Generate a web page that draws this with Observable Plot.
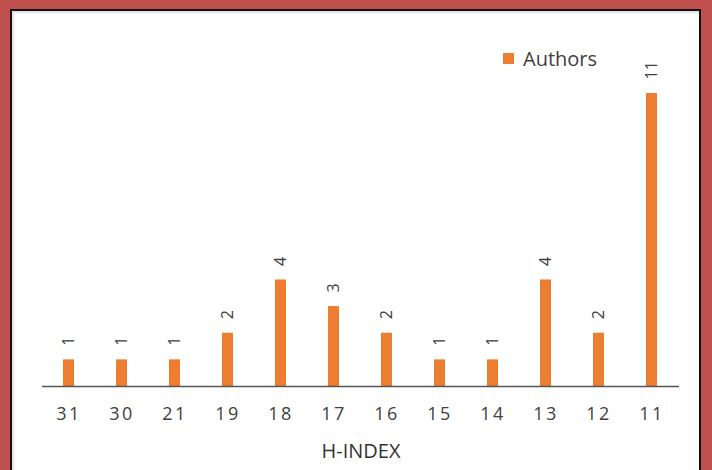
<!DOCTYPE html>
<html>
<head>
<meta charset="utf-8">
<script src="https://cdn.jsdelivr.net/npm/d3@7"></script>
<script src="https://cdn.jsdelivr.net/npm/@observablehq/plot@0.6"></script>
<style>
  html, body { margin: 0; padding: 0; }
  body { width: 712px; height: 470px; background: #C0504D; position: relative; overflow: hidden; font-family: "Open Sans", sans-serif; }
  #frame { position: absolute; left: 10px; top: 9px; width: 687px; height: 470px; background: #fff; border-top: 2px solid #111; border-left: 2px solid #111; border-right: 2px solid #111; box-shadow: inset 2px 2px 2px rgba(0,0,0,0.12); }
  #chart { position: absolute; left: 0; top: 0; }
  #legend { position: absolute; left: 503px; top: 45px; display: flex; align-items: center; font-size: 20px; color: #404040; }
  #legend .sw { width: 11px; height: 11px; background: #ED7D31; margin-right: 9px; }
</style>
</head>
<body>
<div id="frame"></div>
<div id="chart"></div>
<div id="legend"><span class="sw"></span><span>Authors</span></div>
<script>
const hIndex = ["31", "30", "21", "19", "18", "17", "16", "15", "14", "13", "12", "11"];
const authors = [1, 1, 1, 2, 4, 3, 2, 1, 1, 4, 2, 11];
const seriesName = "Authors";
const xLabel = "H-INDEX";

const data = hIndex.map((h, i) => ({h, v: authors[i]}));

const chart = Plot.plot({
  width: 712,
  height: 470,
  marginLeft: 42,
  marginRight: 33,
  marginTop: 93,
  marginBottom: 84,
  style: {background: "transparent", fontFamily: "Open Sans, sans-serif", color: "#404040"},
  x: {domain: hIndex, paddingInner: 0.79, paddingOuter: 0.395},
  y: {domain: [0, 11], axis: null},
  marks: [
    Plot.barY(data, {x: "h", y: "v", fill: "#ED7D31"}),
    Plot.ruleY([0], {stroke: "#555", strokeWidth: 1.5}),
    Plot.text(data, {x: "h", y: "v", text: d => String(d.v), rotate: -90, textAnchor: "start", dy: -14, fontSize: 16, fill: "#404040"}),
    Plot.axisX({tickSize: 0, tickPadding: 21, fontSize: 18, label: xLabel, labelAnchor: "center", labelOffset: 71, labelArrow: "none"})
  ]
});
chart.querySelectorAll('[aria-label="x-axis tick label"] text').forEach(t => t.setAttribute("letter-spacing", "2.5"));
chart.querySelectorAll('[aria-label="x-axis label"] text').forEach(t => { t.setAttribute("font-size", "20"); t.setAttribute("fill", "#333"); });
document.getElementById("chart").appendChild(chart);
</script>
</body>
</html>
